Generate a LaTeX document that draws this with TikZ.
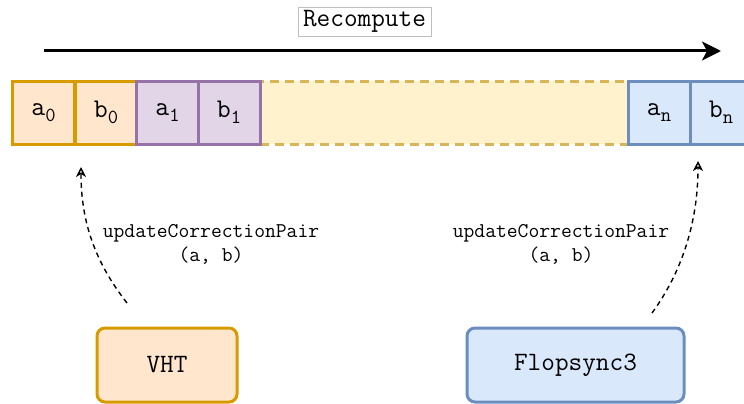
\documentclass[tikz,border=0pt]{standalone}
\usetikzlibrary{arrows.meta}
\definecolor{orfill}{HTML}{FFE6CC}\definecolor{ordraw}{HTML}{D79B00}
\definecolor{pufill}{HTML}{E1D5E7}\definecolor{pudraw}{HTML}{9673A6}
\definecolor{yefill}{HTML}{FFF2CC}\definecolor{yedraw}{HTML}{D6B656}
\definecolor{blfill}{HTML}{DAE8FC}\definecolor{bldraw}{HTML}{6C8EBF}
\newcommand{\cellsub}[2]{#1\raisebox{-6pt}{\fontsize{20}{20}\selectfont #2}}
\tikzset{
  cell/.style={rectangle, minimum width=62pt, minimum height=63pt, line width=3pt, inner sep=0pt, font=\ttfamily\fontsize{27}{27}\selectfont},
  orcell/.style={cell, fill=orfill, draw=ordraw},
  pucell/.style={cell, fill=pufill, draw=pudraw},
  blcell/.style={cell, fill=blfill, draw=bldraw},
  actor/.style={rectangle, rounded corners=8pt, line width=3pt, inner sep=0pt, minimum height=74pt, font=\ttfamily\fontsize{26.5}{26.5}\selectfont},
  call/.style={dash pattern=on 5pt off 4pt, line width=1.4pt, -{Stealth[open, length=10pt, width=10pt, inset=3pt]}},
  lbl/.style={align=center, font=\ttfamily\fontsize{21}{24}\selectfont, inner sep=0pt}
}
\begin{document}
\begin{tikzpicture}[x=1pt, y=-1pt]
\useasboundingbox (0,0) rectangle (744,404);
\clip (0,0) rectangle (744,404);
% recompute
\node[draw=black!25, line width=0.8pt, fill=white, minimum width=133pt, minimum height=29pt, inner sep=0pt, font=\ttfamily\fontsize{26.5}{26.5}\selectfont] (rec) at (364.5,21.5) {Recompute};
\coordinate (tl) at (44,51);
\coordinate (tr) at (721,51);
\draw[line width=3pt, -{Stealth[length=19pt, width=19pt, inset=5pt]}] (tl) -- (tr);
% dashed middle
\node[rectangle, fill=yefill, draw=yedraw, line width=3pt, dash pattern=on 9pt off 6pt, minimum width=368pt, minimum height=63pt] (mid) at (444,112.5) {};
% cells
\node[orcell] (a0) at (43.5,112.5) {\cellsub{a}{0}};
\node[orcell] (b0) at (106,112.5) {\cellsub{b}{0}};
\node[pucell] (a1) at (167.5,112.5) {\cellsub{a}{1}};
\node[pucell] (b1) at (229,112.5) {\cellsub{b}{1}};
\node[blcell] (an) at (659,112.5) {\cellsub{a}{n}};
\node[blcell] (bn) at (721,112.5) {\cellsub{b}{n}};
% actors
\node[actor, fill=orfill, draw=ordraw, minimum width=140pt] (vht) at (167,365) {VHT};
\node[actor, fill=blfill, draw=bldraw, minimum width=217pt] (fs) at (575.5,365) {Flopsync3};
% calls
\coordinate (s1) at (127,303);
\coordinate (e1) at (81,167);
\coordinate (s2) at (652,313);
\coordinate (e2) at (698,161);
\draw[call] (s1) .. controls (95,262) and (81,222) .. (e1);
\draw[call] (s2) .. controls (682,272) and (698,222) .. (e2);
\node[lbl] (l1) at (211,244) {updateCorrectionPair\\(a, b)};
\node[lbl] (l2) at (561,244) {updateCorrectionPair\\(a, b)};
\end{tikzpicture}
\end{document}
